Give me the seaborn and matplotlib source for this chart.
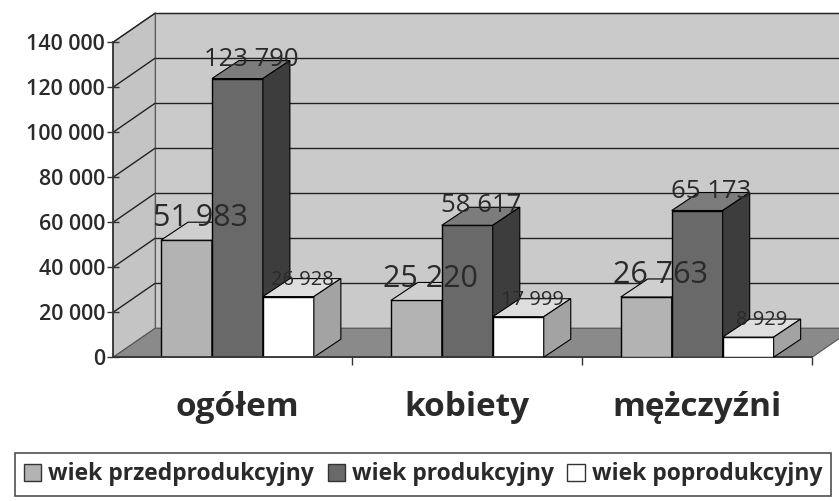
import matplotlib.pyplot as plt
import pandas as pd
import seaborn as sns
from matplotlib.patches import Polygon, Patch
from matplotlib.ticker import FuncFormatter

categories = ['ogółem', 'kobiety', 'mężczyźni']
series = ['wiek przedprodukcyjny', 'wiek produkcyjny', 'wiek poprodukcyjny']
przedprod = [51983, 25220, 26763]
produkcyjny = [123790, 58617, 65173]
poprod = [26928, 17999, 8929]
y_ticks = [0, 20000, 40000, 60000, 80000, 100000, 120000, 140000]

# front / top / side shades for the fake 3D boxes
front_cols = ['#b3b3b3', '#696969', '#ffffff']
top_cols = ['#cfcfcf', '#7c7c7c', '#dedede']
side_cols = ['#8e8e8e', '#3d3d3d', '#a3a3a3']
label_sizes = [22, 18.5, 14.5]

df = pd.DataFrame({
    'grupa': categories * 3,
    'wiek': [s for s in series for _ in categories],
    'liczba': przedprod + produkcyjny + poprod,
})

sns.set_theme(style='white')
plt.rcParams['font.family'] = ['Open Sans', 'DejaVu Sans']

fig = plt.figure(figsize=(8.39, 5.01), dpi=100)
ax = fig.add_axes([0.135, 0.287, 0.833, 0.629])

sns.barplot(data=df, x='grupa', y='liczba', hue='wiek', hue_order=series,
            palette=front_cols, width=0.665, edgecolor='black', linewidth=1,
            legend=False, ax=ax)

xmin, xmax = -0.54, 2.5
ax.set_xlim(xmin, xmax)
ax.set_ylim(0, 140000)

def px(x, y):
    return ax.transData.transform((x, y))

DX, DY = 42, 29   # depth of the walls in pixels
bx, by = 27, 18   # depth of the bars

def poly(points, fc, z, ec='black', lw=0.8):
    p = Polygon(points, closed=True, facecolor=fc, edgecolor=ec, linewidth=lw,
                transform=None, zorder=z, clip_on=False)
    ax.add_patch(p)

# walls and floor
f0, f1 = px(xmin, 0), px(xmin, 140000)
r0 = px(xmax, 0)
poly([f0, f1, f1 + (DX, DY), f0 + (DX, DY)], '#c4c4c4', 0.2, ec='#555555')
poly([f1 + (DX, DY), px(xmax, 140000) + (DX, DY) + (200, 0),
      r0 + (DX, DY) + (200, 0), f0 + (DX, DY)], '#cacaca', 0.1, ec='#555555')
poly([f0, r0, r0 + (DX, DY), f0 + (DX, DY)], '#8a8a8a', 0.3, ec='#555555')
for t in y_ticks[1:]:
    a = px(xmin, t)
    b = a + (DX, DY)
    ax.plot([a[0], b[0]], [a[1], b[1]], color='#222222', lw=1, transform=None,
            zorder=0.4, clip_on=False)
    ax.plot([b[0], b[0] + 900], [b[1], b[1]], color='#222222', lw=1,
            transform=None, zorder=0.15, clip_on=False)

# 3D faces on the seaborn bars, drawn left to right
order = sorted(range(9), key=lambda i: ax.patches[i].get_x())
for k, i in enumerate(order):
    p = ax.patches[i]
    si = series.index(df['wiek'].iloc[i])
    x0, x1, h = p.get_x(), p.get_x() + p.get_width(), p.get_height()
    z = 2 + k * 0.1
    p.set_zorder(z)
    a, b, c = px(x0, h), px(x1, h), px(x1, 0)
    poly([a, b, b + (bx, by), a + (bx, by)], top_cols[si], z + 0.05)
    poly([c, b, b + (bx, by), c + (bx, by)], side_cols[si], z + 0.05)
    ax.annotate(f'{int(h):,}'.replace(',', ' '), (p.get_x() + p.get_width() / 2, h),
                xytext=(10, 5), textcoords='offset points', ha='center', va='bottom',
                fontsize=label_sizes[si], color='#2a2a2a', zorder=5)

ax.set_yticks(y_ticks)
ax.yaxis.set_major_formatter(FuncFormatter(lambda v, _: f'{int(v):,}'.replace(',', ' ')))
ax.tick_params(axis='y', direction='inout', length=8, width=1, color='#333333',
               labelsize=15.5, labelcolor='#2a2a2a', pad=2, left=True)
for t in ax.get_yticklabels():
    t.set_fontweight('semibold')
ax.set_xticks([0, 1, 2])
ax.set_xticklabels(categories, fontsize=24, fontweight='bold', color='#2a2a2a')
ax.set_xticks([0.5, 1.5, 2.5], minor=True)
ax.tick_params(axis='x', which='major', length=0, pad=24)
ax.tick_params(axis='x', which='minor', direction='out', length=6, color='#333333', bottom=True)
ax.set_xlabel('')
ax.set_ylabel('')
for s in ['top', 'right']:
    ax.spines[s].set_visible(False)
ax.spines['left'].set_color('#333333')
ax.spines['bottom'].set_color('#333333')
ax.set_facecolor('none')

handles = [Patch(facecolor=c, edgecolor='#333333') for c in front_cols]
leg = fig.legend(handles, series, loc='lower left', bbox_to_anchor=(0.004, -0.012), ncol=3,
                 frameon=True, fancybox=False, edgecolor='#222222', fontsize=16.5,
                 handlelength=0.75, handleheight=0.75, handletextpad=0.3, columnspacing=0.6,
                 borderpad=0.4)
leg.get_frame().set_linewidth(1.2)
for t in leg.get_texts():
    t.set_fontweight('bold')
    t.set_color('#2a2a2a')

fig.savefig('out.png', dpi=100)
